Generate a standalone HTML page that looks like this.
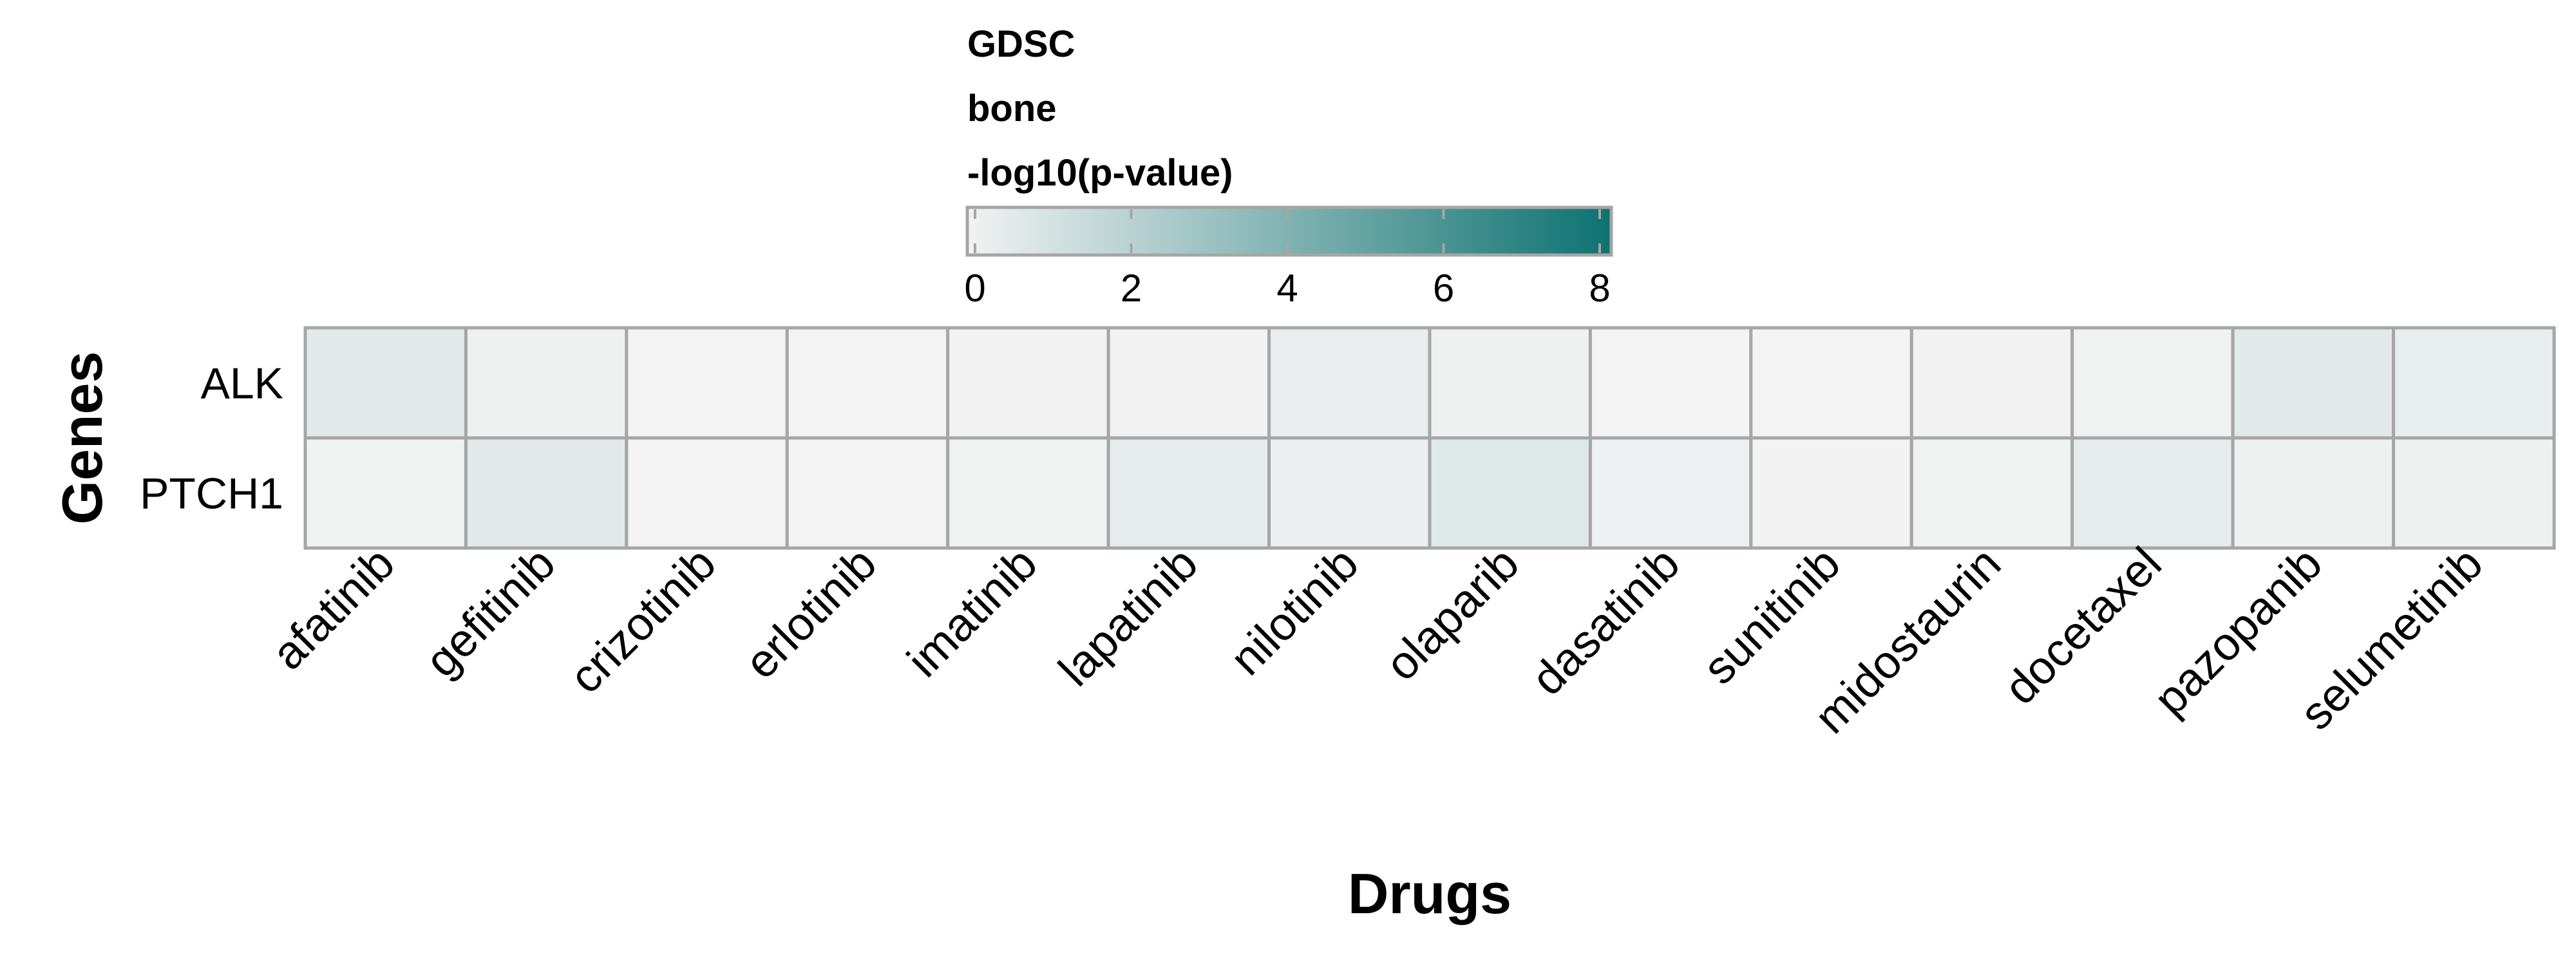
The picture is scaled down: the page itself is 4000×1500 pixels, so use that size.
<!DOCTYPE html>
<html><head><meta charset="utf-8">
<style>
html,body{margin:0;padding:0;background:#fff;}
svg{display:block;font-family:"Liberation Sans",Arial,sans-serif;}
</style></head>
<body>
<svg id="chart" width="4000" height="1500" viewBox="0 0 4000 1500" xmlns="http://www.w3.org/2000/svg">
<defs>
<linearGradient id="grad" x1="0" x2="1" y1="0" y2="0">
<stop offset="0" stop-color="#f2f2f2"/>
<stop offset="1" stop-color="#0e7272"/>
</linearGradient>
</defs>
<g>
<text x="1502" y="88" font-size="58" font-weight="bold">GDSC</text>
<text x="1502" y="188" font-size="58" font-weight="bold">bone</text>
<text x="1502" y="288" font-size="58" font-weight="bold">-log10(p-value)</text>
<rect x="1502" y="322" width="1000" height="74" fill="url(#grad)" stroke="#a6a6a6" stroke-width="5"/>
<g id="cbticks"></g>
</g>
<g id="cells"></g>
<g id="ylabels"></g>
<g id="xlabels"></g>
<text transform="translate(158,680) rotate(-90)" text-anchor="middle" font-size="88" font-weight="bold">Genes</text>
<text x="2220" y="1418" text-anchor="middle" font-size="88" font-weight="bold">Drugs</text>
</svg>
<script>
const drugs = ["afatinib","gefitinib","crizotinib","erlotinib","imatinib","lapatinib","nilotinib","olaparib","dasatinib","sunitinib","midostaurin","docetaxel","pazopanib","selumetinib"];
const genes = ["ALK","PTCH1"];
const alkValues = [0.6,0.15,0.0,0.0,0.05,0.05,0.35,0.15,0.0,0.0,0.05,0.1,0.6,0.4];
const ptch1Values = [0.1,0.6,0.0,0.0,0.1,0.45,0.25,0.65,0.2,0.05,0.1,0.45,0.15,0.15];
const colorTicks = [0,2,4,6,8];

const NS = "http://www.w3.org/2000/svg";
const X0 = 474, X1 = 3966, Y0 = 509, Y1 = 851;
const cw = (X1 - X0) / drugs.length, rh = (Y1 - Y0) / genes.length;
const xPos = i => X0 + i * cw;
const yPos = j => Y0 + j * rh;
const cbX = v => 1514 + (v / 8) * (2484 - 1514);
function color(v){
  const t = Math.max(0, Math.min(1, v / 8));
  const a=[243,243,243], b=[14,114,114];
  return "rgb(" + a.map((c,k)=>Math.round(c+(b[k]-c)*t)).join(",") + ")";
}
function mk(tag, attrs){ const e=document.createElementNS(NS,tag); for(const k in attrs) e.setAttribute(k,attrs[k]); return e; }

const series = [alkValues, ptch1Values];
const cells = document.getElementById("cells");
series.forEach((vals, j) => {
  vals.forEach((v, i) => {
    const r = mk("rect",{x:xPos(i),y:yPos(j),width:cw,height:rh,fill:color(v),stroke:"#a6a6a6","stroke-width":5});
    
    
    cells.appendChild(r);
  });
});
const yl = document.getElementById("ylabels");
genes.forEach((g, j) => {
  const t = mk("text",{x:440,y:yPos(j)+rh/2+24,"text-anchor":"end","font-size":68});
  t.textContent = g;
  
  
  yl.appendChild(t);
});
const xl = document.getElementById("xlabels");
drugs.forEach((d, i) => {
  const cx = xPos(i) + cw/2 + 18, cy = 880;
  const t = mk("text",{x:0,y:0,"text-anchor":"end","font-size":72,transform:"translate("+cx+","+cy+") rotate(-45)"});
  t.textContent = d;
  
  
  xl.appendChild(t);
});
const cb = document.getElementById("cbticks");
colorTicks.forEach(v => {
  const x = cbX(v);
  const l1 = mk("line",{x1:x,x2:x,y1:325,y2:340,stroke:"#a6a6a6","stroke-width":4});
  
  
  const l2 = mk("line",{x1:x,x2:x,y1:378,y2:393,stroke:"#a6a6a6","stroke-width":4});
  
  
  const t = mk("text",{x:x,y:468,"text-anchor":"middle","font-size":60});
  t.textContent = v;
  
  
  cb.appendChild(l1); cb.appendChild(l2); cb.appendChild(t);
});
</script>
</body></html>
